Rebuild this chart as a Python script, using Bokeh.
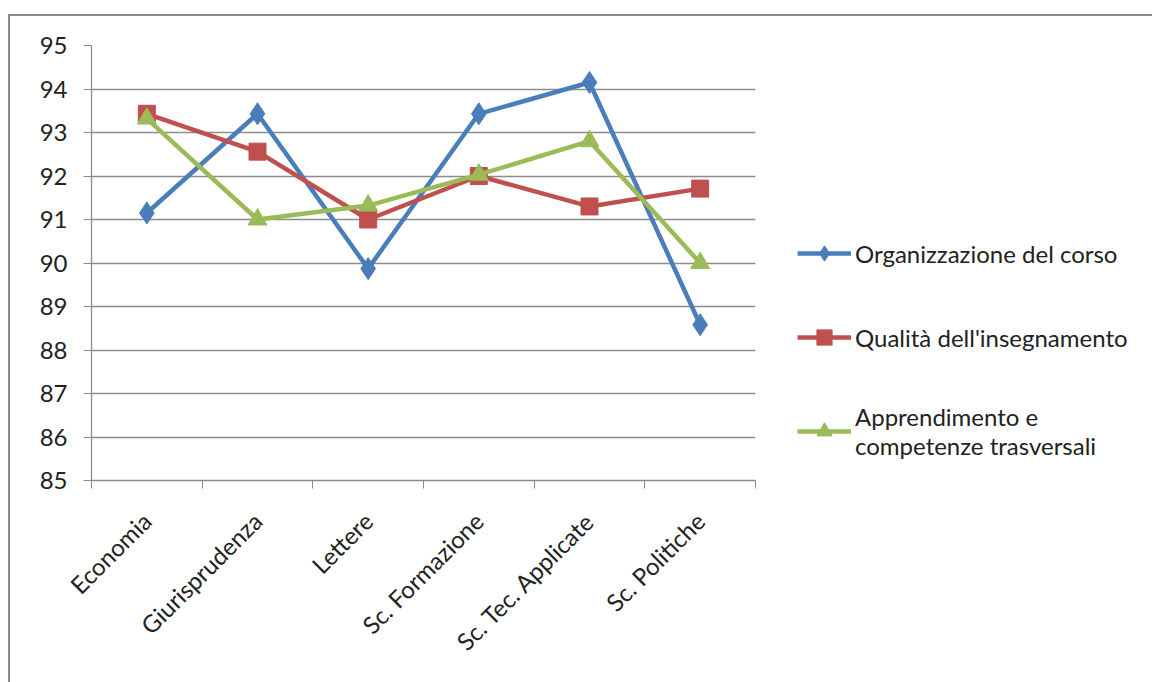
import math
from bokeh.plotting import figure
from bokeh.models import (ColumnDataSource, FixedTicker, Legend, LegendItem, Range1d)
from bokeh.embed import file_html
from bokeh.resources import INLINE

categories = ["Economia", "Giurisprudenza", "Lettere", "Sc. Formazione",
              "Sc. Tec. Applicate", "Sc. Politiche"]
organizzazione = [91.15, 93.43, 89.87, 93.43, 94.15, 88.58]
qualita = [93.43, 92.56, 91.0, 92.0, 91.3, 91.71]
apprendimento = [93.32, 91.0, 91.32, 92.03, 92.8, 90.0]
y_ticks = [85, 86, 87, 88, 89, 90, 91, 92, 93, 94, 95]

FONT = "Lato"
FS = "24px"
GRAY = "#8c8c8c"
BLUE = "#4a7ebb"
RED = "#c0504d"
GREEN = "#9bbb59"

xs = [i + 0.5 for i in range(len(categories))]

p = figure(frame_width=664, frame_height=435, output_backend="svg",
           toolbar_location=None,
           x_range=Range1d(0, len(categories)), y_range=Range1d(85, 95))
p.min_border_left = 81
p.min_border_top = 29
p.min_border_bottom = 202
p.min_border_right = 0
p.outline_line_color = None
p.background_fill_color = "white"
p.border_fill_color = "white"
p.styles = {"border-top": "2px solid #8c8c8c", "border-left": "2px solid #8c8c8c",
            "margin-top": "14px", "margin-left": "8px"}

# grid
p.xgrid.grid_line_color = None
p.ygrid.grid_line_color = GRAY
p.ygrid.grid_line_width = 1.3
p.ygrid.ticker = FixedTicker(ticks=y_ticks[1:])

# y axis
p.yaxis.ticker = FixedTicker(ticks=y_ticks)
p.yaxis.axis_line_color = GRAY
p.yaxis.axis_line_width = 1.3
p.yaxis.major_tick_line_color = GRAY
p.yaxis.major_tick_in = 0
p.yaxis.major_tick_out = 8
p.yaxis.minor_tick_line_color = None
p.yaxis.major_label_text_font = FONT
p.yaxis.major_label_text_font_size = FS
p.yaxis.major_label_text_color = "#222222"
p.yaxis.major_label_standoff = 16

# x axis
p.xaxis.ticker = FixedTicker(ticks=xs, minor_ticks=list(range(len(categories) + 1)))
p.xaxis.major_label_overrides = {x: c for x, c in zip(xs, categories)}
p.xaxis.major_label_orientation = math.pi / 4
p.xaxis.axis_line_color = GRAY
p.xaxis.axis_line_width = 1.3
p.xaxis.major_tick_line_color = None
p.xaxis.minor_tick_line_color = GRAY
p.xaxis.minor_tick_in = 0
p.xaxis.minor_tick_out = 8
p.xaxis.major_label_text_font = FONT
p.xaxis.major_label_text_font_size = FS
p.xaxis.major_label_text_color = "#222222"
p.xaxis.major_label_standoff = 28

series = [
    ("Organizzazione del corso", organizzazione, BLUE, "diamond", 22),
    ("Qualità dell'insegnamento", qualita, RED, "square", 17),
    ("Apprendimento e\ncompetenze trasversali", apprendimento, GREEN, "triangle", 19),
]

items = []
for label, vals, color, marker, size in series:
    src = ColumnDataSource(dict(x=xs, y=vals))
    ln = p.line("x", "y", source=src, line_color=color, line_width=4.5)
    sc = p.scatter("x", "y", source=src, marker=marker, size=size,
                   fill_color=color, line_color=color)
    items.append(LegendItem(label=label, renderers=[ln, sc]))

legend = Legend(items=items, location=(42, 20))
legend.label_text_font = FONT
legend.label_text_font_size = FS
legend.label_text_color = "#222222"
legend.border_line_color = None
legend.background_fill_alpha = 0
legend.glyph_width = 54
legend.glyph_height = 38
legend.spacing = 46
legend.label_standoff = 4
legend.margin = 0
legend.padding = 0
p.add_layout(legend, "right")

open("out.html", "w").write(file_html(p, INLINE))
